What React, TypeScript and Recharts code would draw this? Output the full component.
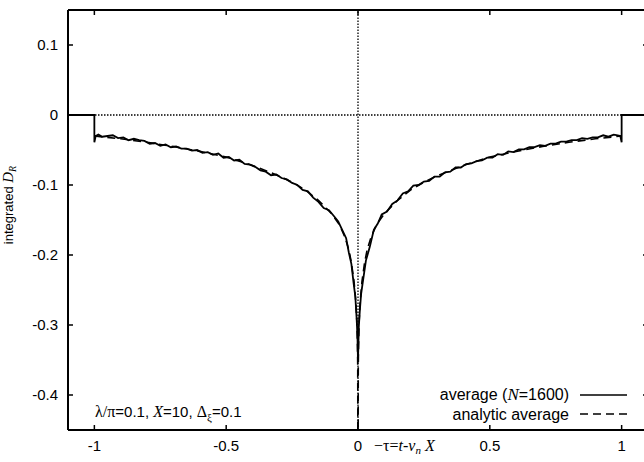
import { LineChart, Line, XAxis, YAxis, ReferenceLine } from 'recharts';

// simulated average, N=1600
const avgX = [
  -1.1, -1, -1, -0.995, -0.985, -0.97, -0.95, -0.93, -0.91, -0.89, -0.87, -0.85, -0.83, -0.81, -0.79, -0.77,
  -0.75, -0.73, -0.71, -0.69, -0.67, -0.65, -0.63, -0.61, -0.59, -0.57, -0.55, -0.53, -0.51, -0.49, -0.47,
  -0.45, -0.43, -0.41, -0.39, -0.37, -0.35, -0.33, -0.31, -0.29, -0.27, -0.25, -0.23, -0.21, -0.19, -0.17,
  -0.15, -0.13, -0.11, -0.09, -0.075, -0.06, -0.045, -0.035, -0.025, -0.017, -0.01, -0.005, -0.002, 0,
  0.003, 0.007, 0.012, 0.02, 0.03, 0.045, 0.06, 0.075, 0.09, 0.11, 0.13, 0.15, 0.17, 0.19, 0.21, 0.23,
  0.25, 0.27, 0.29, 0.31, 0.33, 0.35, 0.37, 0.39, 0.41, 0.43, 0.45, 0.47, 0.49, 0.51, 0.53, 0.55, 0.57,
  0.59, 0.61, 0.63, 0.65, 0.67, 0.69, 0.71, 0.73, 0.75, 0.77, 0.79, 0.81, 0.83, 0.85, 0.87, 0.89, 0.91,
  0.93, 0.95, 0.97, 0.985, 0.995, 1, 1, 1.1,
];
const avgY = [
  0, 0, -0.039, -0.03, -0.028, -0.031, -0.03, -0.029, -0.033, -0.032, -0.036, -0.034, -0.036, -0.037, -0.041, -0.04,
  -0.044, -0.042, -0.046, -0.045, -0.048, -0.048, -0.051, -0.05, -0.054, -0.053, -0.057, -0.055, -0.061, -0.06, -0.065,
  -0.064, -0.07, -0.071, -0.074, -0.079, -0.081, -0.086, -0.085, -0.09, -0.092, -0.097, -0.1, -0.107, -0.109, -0.118,
  -0.124, -0.133, -0.136, -0.145, -0.152, -0.164, -0.176, -0.196, -0.213, -0.239, -0.26, -0.292, -0.316, -0.352,
  -0.303, -0.279, -0.255, -0.234, -0.208, -0.188, -0.164, -0.155, -0.142, -0.138, -0.127, -0.122, -0.112, -0.109, -0.101, -0.1,
  -0.095, -0.094, -0.088, -0.088, -0.082, -0.081, -0.075, -0.075, -0.07, -0.069, -0.066, -0.065, -0.061, -0.061, -0.056, -0.057, -0.052,
  -0.053, -0.049, -0.049, -0.046, -0.046, -0.043, -0.044, -0.041, -0.041, -0.038, -0.038, -0.036, -0.036, -0.033, -0.034, -0.032, -0.032,
  -0.029, -0.031, -0.028, -0.029, -0.03, -0.039, 0, 0,
];

// analytic average
const anaX = [
  -1, -0.9, -0.8, -0.7, -0.6, -0.5, -0.4, -0.3, -0.25, -0.2, -0.15, -0.1, -0.07, -0.05, -0.035, -0.025,
  -0.015, -0.008, -0.004, -0.002, -0.001, 0, 0.001, 0.002, 0.004, 0.008, 0.015, 0.025, 0.035, 0.05, 0.07,
  0.1, 0.15, 0.2, 0.25, 0.3, 0.4, 0.5, 0.6, 0.7, 0.8, 0.9, 1,
];
const anaY = [
  -0.03, -0.034, -0.039, -0.045, -0.052, -0.06, -0.072, -0.087, -0.096, -0.107, -0.122, -0.141, -0.157, -0.174, -0.192, -0.211,
  -0.238, -0.268, -0.298, -0.33, -0.36, -0.6, -0.36, -0.33, -0.298, -0.268, -0.238, -0.211, -0.192, -0.174, -0.157,
  -0.141, -0.122, -0.107, -0.096, -0.087, -0.072, -0.06, -0.052, -0.045, -0.039, -0.034, -0.03,
];

const xTicks = [-1, -0.5, 0, 0.5, 1];
const yTicks = [-0.4, -0.3, -0.2, -0.1, 0, 0.1];

const avgData = avgX.map((x, i) => ({ x, y: avgY[i] }));
const anaData = anaX.map((x, i) => ({ x, y: anaY[i] }));

const sans = '"Liberation Sans", Arial, sans-serif';
const serif = '"Liberation Serif", "Times New Roman", serif';

// plot box (gnuplot style frame, ticks pointing inward on all four sides)
const PLOT_TOP = 10;
const PLOT_BOTTOM = 430;
const PLOT_LEFT = 68;
const PLOT_RIGHT = 648;
const TICK = 5;

const XTick = ({ x, y, payload }: any) => (
  <g>
    <line x1={x} y1={PLOT_BOTTOM} x2={x} y2={PLOT_BOTTOM - TICK} stroke="#000" strokeWidth={1.5} />
    <line x1={x} y1={PLOT_TOP} x2={x} y2={PLOT_TOP + TICK} stroke="#000" strokeWidth={1.5} />
    <text x={x} y={y} dy="0.71em" textAnchor="middle" fontFamily={sans} fontSize={15} fill="#000">
      {payload.value}
    </text>
  </g>
);

const YTick = ({ x, y, payload }: any) => (
  <g>
    <line x1={PLOT_LEFT} y1={y} x2={PLOT_LEFT + TICK} y2={y} stroke="#000" strokeWidth={1.5} />
    <line x1={PLOT_RIGHT} y1={y} x2={PLOT_RIGHT - TICK} y2={y} stroke="#000" strokeWidth={1.5} />
    <text x={x} y={y} dy="0.355em" textAnchor="end" fontFamily={sans} fontSize={15} fill="#000">
      {payload.value}
    </text>
  </g>
);

export default function App() {
  return (
    <div style={{ position: 'absolute', left: 0, top: 0, width: 644, height: 462, overflow: 'hidden', background: '#fff' }}>
      <LineChart width={660} height={462} margin={{ top: 0, right: 0, left: 0, bottom: 0 }}>
        <XAxis
          xAxisId="b"
          dataKey="x"
          type="number"
          domain={[-1.1, 1.1]}
          ticks={xTicks}
          allowDataOverflow
          height={32}
          tickSize={0}
          tickMargin={10}
          tick={<XTick />}
          tickLine={false}
          axisLine={{ stroke: '#000', strokeWidth: 2 }}
        />
        <XAxis
          xAxisId="t"
          orientation="top"
          dataKey="x"
          type="number"
          domain={[-1.1, 1.1]}
          allowDataOverflow
          height={10}
          tick={false}
          tickLine={false}
          axisLine={{ stroke: '#000', strokeWidth: 2 }}
        />
        <YAxis
          yAxisId="l"
          type="number"
          domain={[-0.45, 0.15]}
          ticks={yTicks}
          allowDataOverflow
          width={68}
          tickSize={0}
          tickMargin={10}
          tick={<YTick />}
          tickLine={false}
          axisLine={{ stroke: '#000', strokeWidth: 2 }}
        />
        <YAxis
          yAxisId="r"
          orientation="right"
          type="number"
          domain={[-0.45, 0.15]}
          allowDataOverflow
          width={12}
          tick={false}
          tickLine={false}
          axisLine={{ stroke: '#000', strokeWidth: 2 }}
        />
        <ReferenceLine xAxisId="b" yAxisId="l" y={0} stroke="#000" strokeWidth={1.3} strokeDasharray="1.5 1.5" />
        <ReferenceLine xAxisId="b" yAxisId="l" x={0} stroke="#000" strokeWidth={1.3} strokeDasharray="1.5 1.5" />
        <Line
          xAxisId="b"
          yAxisId="l"
          data={anaData}
          dataKey="y"
          type="linear"
          stroke="#000"
          strokeWidth={1.6}
          strokeDasharray="8 5"
          dot={false}
          isAnimationActive={false}
        />
        <Line
          xAxisId="b"
          yAxisId="l"
          data={avgData}
          dataKey="y"
          type="linear"
          stroke="#000"
          strokeWidth={1.8}
          dot={false}
          isAnimationActive={false}
        />
      </LineChart>

      <svg width={644} height={462} style={{ position: 'absolute', left: 0, top: 0, pointerEvents: 'none' }}>
        <text transform="translate(13,205) rotate(-90)" textAnchor="middle" fontFamily={sans} fontSize={13} fill="#000">
          integrated <tspan fontFamily={serif} fontStyle="italic" fontSize={15}>D</tspan>
          <tspan fontFamily={serif} fontStyle="italic" fontSize={10} dy={3}>R</tspan>
        </text>

        <text x={374} y={451} fontFamily={serif} fontSize={16} fill="#000">
          −τ=<tspan fontStyle="italic">t</tspan>-<tspan fontStyle="italic">v</tspan>
          <tspan fontStyle="italic" fontSize={11} dy={3}>n</tspan>
          <tspan fontStyle="italic" dy={-3}> X</tspan>
        </text>

        <text x={95} y={417} fontFamily={sans} fontSize={15} fill="#000">
          <tspan fontFamily={serif} fontSize={16}>λ/π</tspan>=0.1, <tspan fontFamily={serif} fontStyle="italic" fontSize={16}>X</tspan>=10,{' '}
          <tspan fontFamily={serif} fontSize={16}>Δ</tspan>
          <tspan fontFamily={serif} fontSize={11} dy={4}>ξ</tspan>
          <tspan dy={-4}>=0.1</tspan>
        </text>

        <text x={569} y={400} textAnchor="end" fontFamily={sans} fontSize={16} fill="#000">
          average (<tspan fontFamily={serif} fontStyle="italic" fontSize={17}>N</tspan>=1600)
        </text>
        <line x1={580} y1={395} x2={627} y2={395} stroke="#000" strokeWidth={1.5} />
        <text x={569} y={420} textAnchor="end" fontFamily={sans} fontSize={16} fill="#000">
          analytic average
        </text>
        <line x1={580} y1={414} x2={627} y2={414} stroke="#000" strokeWidth={1.5} strokeDasharray="8 5" />
      </svg>
    </div>
  );
}
